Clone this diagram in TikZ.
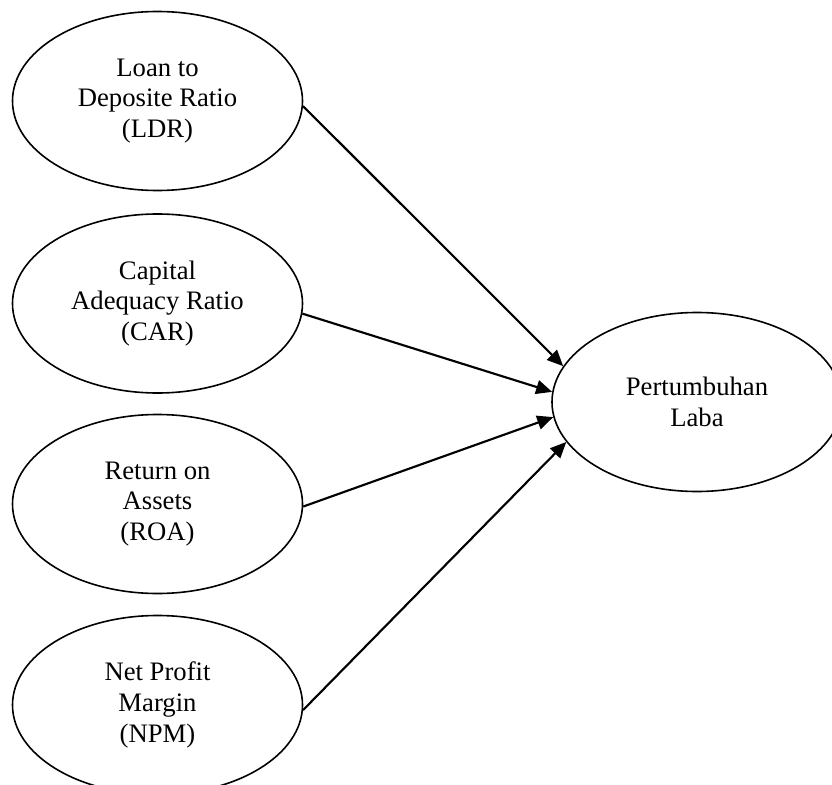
\documentclass[tikz,border=0pt]{standalone}
\usepackage{fontspec}
\setmainfont{Liberation Serif}
\usetikzlibrary{shapes.geometric,arrows.meta}
\begin{document}
\begin{tikzpicture}[x=0.75pt,y=-0.75pt,
  var/.style={ellipse,draw,line width=1.2pt,minimum width=217.5pt,minimum height=134.25pt,
    inner sep=0pt,align=center,font=\fontsize{20}{23}\selectfont},
  link/.style={line width=1.6pt,-{Triangle[length=12pt,width=10.5pt]}}]
\clip (0,0) rectangle (832,785);
\node[var] (ldr) at (157.5,101) {Loan to\\Deposite Ratio\\(LDR)};
\node[var] (car) at (157.5,303.5) {Capital\\Adequacy Ratio\\(CAR)};
\node[var] (roa) at (157.5,504) {Return on\\Assets\\(ROA)};
\node[var] (npm) at (157.5,705) {Net Profit\\Margin\\(NPM)};
\node[var] (pl) at (697,402) {Pertumbuhan\\Laba};
\draw[link] (ldr.-2) -- (pl.165);
\draw[link] (car.-4) -- (pl.176);
\draw[link] (roa.-1) -- (pl.186);
\draw[link] (npm.-2) -- (pl.197);
\end{tikzpicture}
\end{document}
